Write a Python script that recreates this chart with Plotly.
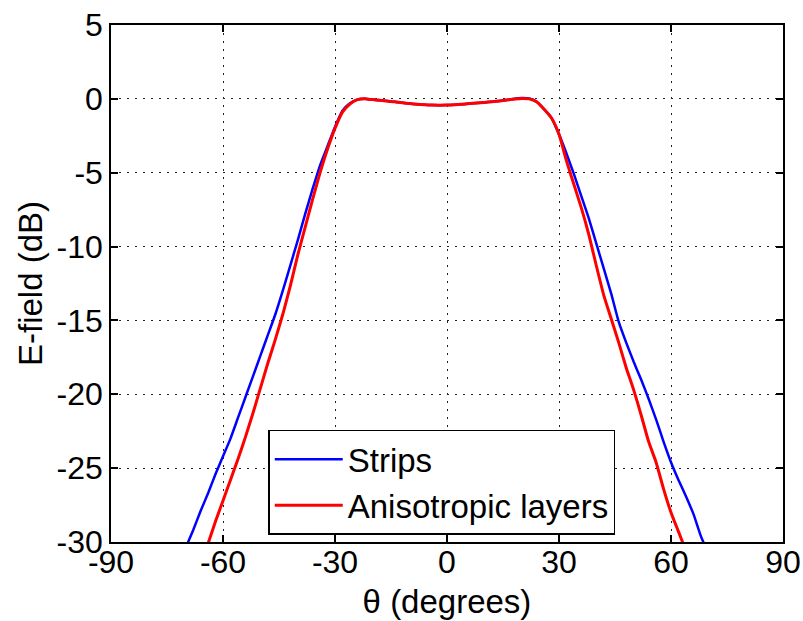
import plotly.graph_objects as go

theta = [-72, -70, -68, -66, -64, -62, -60, -58, -56, -54, -52, -50, -48, -46, -44, -42,
         -40, -38, -36, -34, -32, -30, -28, -26, -24, -22, -20, -18, -16, -14, -12, -10,
         -8, -6, -4, -2, 0, 2, 4, 6, 8, 10, 12, 14, 16, 18, 20, 22, 24, 26, 28, 30,
         32, 34, 36, 38, 40, 42, 44, 46, 48, 50, 52, 54, 56, 58, 60, 62, 64, 66, 68, 70, 72]

strips = [-31.6, -30.4, -29.2, -27.9, -26.7, -25.4, -24.2, -23.0, -21.6, -20.2, -18.8, -17.4,
          -16.0, -14.6, -13.0, -11.3, -9.6, -7.8, -6.1, -4.5, -3.2, -1.9, -0.8, -0.3, -0.05,
          0.0, -0.05, -0.1, -0.15, -0.2, -0.27, -0.32, -0.37, -0.4, -0.42, -0.43, -0.42,
          -0.4, -0.36, -0.32, -0.28, -0.24, -0.2, -0.15, -0.08, 0.0, 0.05, 0.02, -0.2, -0.7,
          -1.3, -2.4, -3.7, -5.1, -6.6, -8.1, -9.8, -11.5, -13.2, -15.1, -16.5, -17.8, -19.0,
          -20.3, -21.7, -23.2, -24.6, -25.8, -26.9, -28.1, -29.6, -30.8, -32.0]

aniso = [-36.2, -34.6, -33.1, -31.6, -30.1, -28.6, -27.2, -25.8, -24.4, -22.9, -21.3, -19.6,
         -17.9, -16.3, -14.6, -12.7, -10.6, -8.7, -6.8, -5.0, -3.4, -2.0, -0.9, -0.35, -0.05,
         0.0, -0.05, -0.1, -0.15, -0.2, -0.27, -0.32, -0.37, -0.4, -0.42, -0.43, -0.42,
         -0.4, -0.36, -0.32, -0.28, -0.24, -0.2, -0.15, -0.08, -0.02, 0.03, 0.0, -0.2, -0.7,
         -1.3, -2.4, -4.2, -5.8, -7.4, -9.2, -11.3, -13.3, -14.9, -16.5, -18.2, -19.7, -21.4,
         -23.2, -24.6, -26.4, -28.0, -29.3, -30.6, -32.0, -33.4, -34.8, -36.2]

x_ticks = [-90, -60, -30, 0, 30, 60, 90]
x_labels = ["-90", "-60", "-30", "0", "30", "60", "90"]
y_ticks = [5, 0, -5, -10, -15, -20, -25, -30]
y_labels = ["5", "0", "-5", "-10", "-15", "-20", "-25", "-30"]

FONT = "Liberation Sans, Arial, sans-serif"

fig = go.Figure()
fig.add_trace(go.Scatter(x=theta, y=strips, mode="lines", name="Strips",
                         line=dict(color="#0000ff", width=2.5, shape="spline", smoothing=0.5)))
fig.add_trace(go.Scatter(x=theta, y=aniso, mode="lines", name="Anisotropic layers",
                         line=dict(color="#ff0000", width=3, shape="spline", smoothing=0.5)))

axis_common = dict(
    showline=True, linecolor="black", linewidth=1.5, mirror="ticks",
    ticks="inside", ticklen=7, tickcolor="black", tickwidth=1.5,
    showgrid=True, gridcolor="#222222", gridwidth=1, griddash="2px,6px",
    zeroline=False, automargin=False,
    tickfont=dict(family=FONT, size=32, color="black"),
)

fig.update_xaxes(range=[-90, 90], tickvals=x_ticks, ticktext=x_labels,
                 ticklabelstandoff=-9,
                 title=dict(text="θ (degrees)", font=dict(family=FONT, size=33, color="black"),
                            standoff=11),
                 **axis_common)
fig.update_yaxes(range=[-30.0001, 5.0001], tickvals=y_ticks, ticktext=y_labels,
                 title=dict(text="E-field (dB)", font=dict(family=FONT, size=33, color="black"),
                            standoff=4),
                 **axis_common)

fig.update_layout(
    width=803, height=621,
    margin=dict(l=111, r=20, t=25, b=79),
    paper_bgcolor="white", plot_bgcolor="white",
    font=dict(family=FONT, color="black"),
    legend=dict(x=0.234, y=0.217, xanchor="left", yanchor="top",
                bgcolor="white", bordercolor="black", borderwidth=1.5,
                font=dict(family=FONT, size=33, color="black"),
                itemwidth=68, tracegroupgap=0),
    showlegend=True,
)

fig.write_html("out.html", config={"displayModeBar": False},
               post_script="document.body.style.margin='0';document.body.style.overflow='hidden';")
